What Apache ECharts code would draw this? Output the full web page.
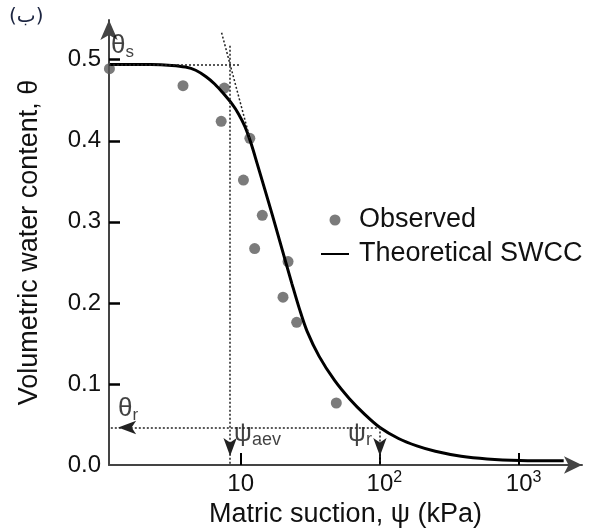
<!DOCTYPE html>
<html>
<head>
<meta charset="utf-8">
<script src="https://cdn.jsdelivr.net/npm/echarts@6/dist/echarts.min.js"></script>
<style>
html,body{margin:0;padding:0;background:#fff;}
#c{width:591px;height:528px;}
</style>
</head>
<body>
<div id="c"></div>
<script>
// ---- data ----
const curveX = [1.15, 2.27, 3.20, 4.01, 4.75, 5.64, 6.50, 7.49, 8.63, 9.67, 10.73, 11.86, 13.11, 14.86, 16.86, 19.10, 21.13, 23.34, 26.48, 30.0, 36.6, 47.1, 60.6, 77.8, 100, 136, 184, 250, 383, 588, 1016, 2090];
const curveY = [0.494, 0.494, 0.493, 0.491, 0.487, 0.479, 0.470, 0.4585, 0.4457, 0.4328, 0.4174, 0.3969, 0.3722, 0.3407, 0.3086, 0.2759, 0.2494, 0.2235, 0.1920, 0.1648, 0.1340, 0.1046, 0.0815, 0.0625, 0.0463, 0.0327, 0.0235, 0.0169, 0.0107, 0.0074, 0.0056, 0.0052];
const obsX = [1.14, 3.85, 7.62, 7.24, 11.63, 10.46, 14.29, 12.59, 21.88, 20.13, 25.23, 48.6];
const obsY = [0.489, 0.468, 0.465, 0.424, 0.403, 0.3515, 0.308, 0.267, 0.251, 0.207, 0.176, 0.0765];
const yTickLabels = [0, 0.1, 0.2, 0.3, 0.4, 0.5];
const yTickMarks = [0.1, 0.2, 0.3, 0.4, 0.5];
const xTicks = [10, 100, 1000];
const xMin = 1.132, xMax = 2829, yMin = 0, yMax = 0.549;
const thetaS = 0.494, thetaSLineEnd = 9.9;
const thetaR = 0.0463, thetaRLineEnd = 95;
const psiAev = 8.39, psiAevTop = 0.5173;
const psiR = 100;
const tangentA = [7.29, 0.5333], tangentB = [11.63, 0.4031];
const seriesNames = ['Observed', 'Theoretical SWCC'];

const FONT = 'Liberation Sans';
const TXT = '#111';

const chart = echarts.init(document.getElementById('c'), null, {renderer: 'canvas'});

const arrowEnd = {symbol: 'arrow', symbolSize: [10, 18], symbolOffset: [0, 9]};
const noSym = {symbol: 'none'};
const subRich = function (main, sub) {
  return {t: {fontSize: main, lineHeight: 30, fontFamily: FONT, color: TXT},
          s: {fontSize: sub, lineHeight: 14, verticalAlign: 'bottom', fontFamily: FONT, color: TXT}};
};

const option = {
  animation: false,
  backgroundColor: '#fff',
  textStyle: {fontFamily: FONT},
  grid: {left: 109, right: 9, top: 20, bottom: 63, containLabel: false, outerBoundsMode: 'none'},
  legend: {
    data: [
      {name: seriesNames[0]},
      {name: seriesNames[1], itemStyle: {opacity: 0}}
    ],
    orient: 'vertical',
    left: 315, top: 200,
    itemWidth: 28, itemHeight: 11, itemGap: 4,
    textStyle: {fontSize: 27, color: TXT, fontFamily: FONT, padding: [0, 0, 0, 5], lineHeight: 30},
    selectedMode: false
  },
  xAxis: {
    type: 'log', logBase: 10, min: xMin, max: xMax,
    name: 'Matric suction, \u03c8 (kPa)', nameLocation: 'middle', nameGap: 29,
    nameTextStyle: {fontSize: 27, color: TXT, fontFamily: FONT},
    axisLine: {show: true, lineStyle: {color: '#444', width: 2}, symbol: ['none', 'arrow'], symbolSize: [13, 18]},
    axisTick: {show: true, inside: true, length: 12, customValues: xTicks, lineStyle: {color: '#000', width: 2}},
    minorTick: {show: false},
    splitLine: {show: false},
    axisLabel: {
      customValues: xTicks, margin: 5, fontSize: 24, color: TXT, fontFamily: FONT,
      formatter: function (v) {
        const e = Math.round(Math.log10(v));
        return e === 1 ? '{b|10}' : '{p|}{b|10}{s|' + e + '}';
      },
      rich: {
        b: {fontSize: 24, fontFamily: FONT, color: TXT, lineHeight: 28},
        s: {fontSize: 16, fontFamily: FONT, color: TXT, lineHeight: 16, verticalAlign: 'top'},
        p: {width: 9}
      }
    }
  },
  yAxis: {
    type: 'value', min: yMin, max: yMax,
    name: 'Volumetric water content, \u03b8', nameLocation: 'middle', nameGap: 66,
    nameTextStyle: {fontSize: 27, color: TXT, fontFamily: FONT},
    axisLine: {show: true, lineStyle: {color: '#444', width: 2}, symbol: ['none', 'arrow'], symbolSize: [13, 20]},
    axisTick: {show: true, inside: true, length: 11, customValues: yTickMarks, lineStyle: {color: '#000', width: 2.5}},
    splitLine: {show: false},
    axisLabel: {
      customValues: yTickLabels, margin: 8, fontSize: 24, color: TXT, fontFamily: FONT,
      formatter: function (v) { return v.toFixed(1); }
    }
  },
  series: [
    {
      name: seriesNames[0], type: 'scatter', z: 2,
      symbol: 'circle', symbolSize: 11,
      itemStyle: {color: '#5a5a5a'},
      data: obsX.map((x, i) => [x, obsY[i]])
    },
    {
      name: seriesNames[1], type: 'line', z: 3,
      symbol: 'none', smooth: 0.3,
      lineStyle: {color: '#000', width: 3},
      itemStyle: {color: '#000'},
      data: curveX.map((x, i) => [x, curveY[i]]),
      markLine: {
        silent: true, animation: false,
        symbol: ['none', 'none'],
        symbolSize: [10, 18],
        lineStyle: {color: '#222', type: [2, 2], width: 1.5},
        label: {show: false},
        emphasis: {disabled: true},
        data: [
          [Object.assign({coord: [xMin, thetaS]}, noSym), Object.assign({coord: [thetaSLineEnd, thetaS]}, noSym)],
          [Object.assign({coord: tangentA}, noSym), Object.assign({coord: tangentB}, noSym)],
          [Object.assign({coord: [psiAev, psiAevTop]}, noSym), Object.assign({coord: [psiAev, 0]}, arrowEnd)],
          [Object.assign({coord: [thetaRLineEnd, thetaR]}, noSym), Object.assign({coord: [xMin + 0.003, thetaR]}, arrowEnd)],
          [Object.assign({coord: [psiR, thetaR]}, noSym), Object.assign({coord: [psiR, 0]}, arrowEnd)]
        ]
      }
    },
    {
      name: 'annotations', type: 'scatter', z: 4, silent: true,
      symbolSize: 0,
      itemStyle: {color: 'rgba(0,0,0,0)'},
      label: {show: true, color: TXT, fontFamily: FONT},
      data: [
        {value: [xMin, thetaS], label: {position: [2, -4], align: 'left', verticalAlign: 'bottom',
          formatter: '{t|\u03b8}{s|s}', rich: subRich(26, 17)}},
        {value: [xMin, thetaR], label: {position: [9, -4], align: 'left', verticalAlign: 'bottom',
          formatter: '{t|\u03b8}{s|r}', rich: subRich(26, 17)}},
        {value: [psiAev, thetaR], label: {position: [4, -8], align: 'left', verticalAlign: 'top',
          formatter: '{t|\u03c8}{s|aev}', rich: subRich(25, 18)}},
        {value: [psiR, thetaR], label: {position: [-8, -8], align: 'right', verticalAlign: 'top',
          formatter: '{t|\u03c8}{s|r}', rich: subRich(25, 18)}}
      ]
    }
  ],
  graphic: [
    {type: 'text', left: 9, top: 7, silent: true,
     style: {text: '(\u0628)', fontSize: 20, fontFamily: 'DejaVu Sans', fill: '#1c2541'}}
  ]
};
chart.setOption(option);
</script>
</body>
</html>
